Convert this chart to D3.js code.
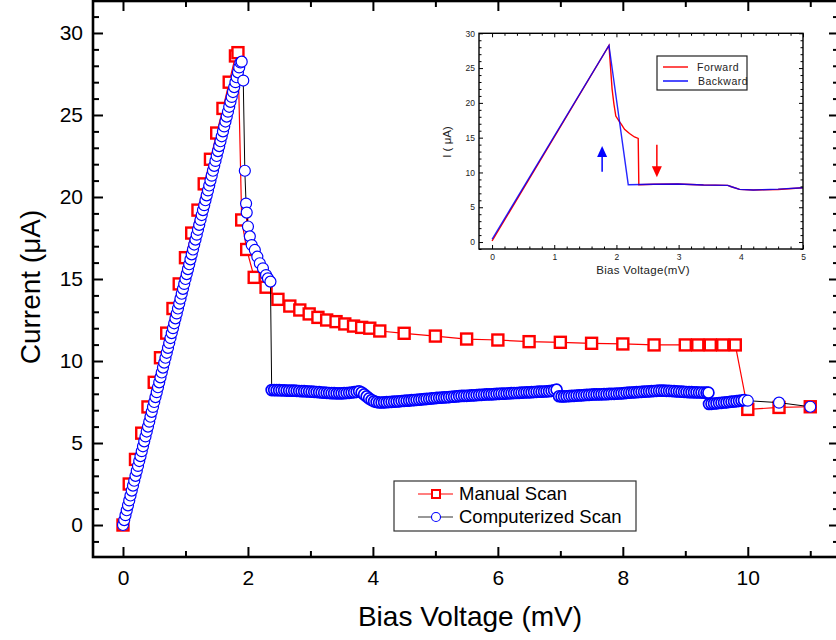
<!DOCTYPE html>
<html>
<head>
<meta charset="utf-8">
<script src="https://cdn.jsdelivr.net/npm/d3@7"></script>
<style>
    body { margin: 0; background: #fff; }
    text { font-family: "Liberation Sans", Arial, sans-serif; }
</style>
</head>
<body>
<div id="main"></div>
<script>
const ctx = {
    w: 836,
    h: 640,
    RED: "#ff0000",
    BLUE: "#0000ff",
};

// Manual scan (red squares)
const MANUAL_V = [0, 0.1, 0.2, 0.3, 0.4, 0.5, 0.6, 0.7, 0.8, 0.9, 1.0, 1.1, 1.2, 1.3, 1.4, 1.5, 1.6, 1.7, 1.8, 1.84,
    1.9, 1.98, 2.1, 2.29, 2.48, 2.67, 2.83, 2.98, 3.12, 3.26, 3.41, 3.55, 3.69, 3.82, 3.95, 4.11,
    4.5, 5.0, 5.5, 6.0, 6.5, 7.0, 7.5, 8.0, 8.5, 9.0, 9.2, 9.4, 9.6, 9.8, 10.0, 10.5, 11.0];
const MANUAL_I = [0, 2.5, 4.0, 5.6, 7.2, 8.7, 10.2, 11.7, 13.2, 14.7, 16.3, 17.8, 19.2, 20.8, 22.3, 23.9, 25.4, 27.0, 28.6, 28.8,
    18.6, 16.8, 15.1, 14.5, 13.76, 13.35, 13.11, 12.87, 12.66, 12.5, 12.4, 12.26, 12.13, 12.05, 12.0, 11.83,
    11.69, 11.52, 11.34, 11.28, 11.18, 11.14, 11.08, 11.04, 10.98, 10.98, 10.98, 10.98, 10.98, 10.98, 7.05, 7.17, 7.21];

// Computerized scan (blue circles): rising branch
const COMP_RAMP_V = [0, 0.02, 0.04, 0.06, 0.08, 0.1, 0.12, 0.14, 0.16, 0.18, 0.2, 0.22, 0.24, 0.26, 0.28, 0.3, 0.32, 0.34, 0.36, 0.38,
    0.4, 0.42, 0.44, 0.46, 0.48, 0.5, 0.52, 0.54, 0.56, 0.58, 0.6, 0.62, 0.64, 0.66, 0.68, 0.7, 0.72, 0.74, 0.76, 0.78,
    0.8, 0.82, 0.84, 0.86, 0.88, 0.9, 0.92, 0.94, 0.96, 0.98, 1.0, 1.02, 1.04, 1.06, 1.08, 1.1, 1.12, 1.14, 1.16, 1.18,
    1.2, 1.22, 1.24, 1.26, 1.28, 1.3, 1.32, 1.34, 1.36, 1.38, 1.4, 1.42, 1.44, 1.46, 1.48, 1.5, 1.52, 1.54, 1.56, 1.58,
    1.6, 1.62, 1.64, 1.66, 1.68, 1.7, 1.72, 1.74, 1.76, 1.78, 1.8, 1.82, 1.84, 1.86, 1.88];
const COMP_RAMP_I = [0, 0.3, 0.6, 0.9, 1.2, 1.5, 1.8, 2.1, 2.4, 2.7, 3.0, 3.3, 3.6, 3.9, 4.2, 4.5, 4.8, 5.1, 5.4, 5.7,
    6.0, 6.3, 6.6, 6.9, 7.2, 7.5, 7.8, 8.1, 8.4, 8.7, 9.0, 9.3, 9.6, 9.9, 10.2, 10.5, 10.8, 11.1, 11.4, 11.7,
    12.0, 12.3, 12.6, 12.9, 13.2, 13.5, 13.8, 14.1, 14.4, 14.7, 15.0, 15.3, 15.6, 15.9, 16.2, 16.5, 16.8, 17.1, 17.4, 17.7,
    18.0, 18.3, 18.6, 18.9, 19.2, 19.5, 19.8, 20.1, 20.4, 20.7, 21.0, 21.3, 21.6, 21.9, 22.2, 22.5, 22.8, 23.1, 23.4, 23.7,
    24.0, 24.3, 24.6, 24.9, 25.2, 25.5, 25.8, 26.1, 26.4, 26.7, 27.0, 27.3, 27.6, 27.9, 28.2];

// Computerized scan: switching branch after the peak
const COMP_DROP_V = [1.9, 1.925, 1.95, 1.97, 1.98, 2.0, 2.03, 2.06, 2.11, 2.15, 2.19, 2.24, 2.29, 2.32, 2.36];
const COMP_DROP_I = [28.25, 27.1, 21.6, 19.6, 19.05, 18.2, 17.6, 17.07, 16.77, 16.36, 15.96, 15.65, 15.24, 15.04, 14.84];

// Computerized scan: resistive branch (densely sampled)
const COMP_BAND_V = [2.38, 2.42, 2.46, 2.5, 2.54, 2.58, 2.62, 2.66, 2.7, 2.74, 2.78, 2.82, 2.86, 2.9, 2.94, 2.98, 3.02, 3.06, 3.1, 3.14,
    3.18, 3.22, 3.26, 3.3, 3.34, 3.38, 3.42, 3.46, 3.5, 3.54, 3.58, 3.62, 3.66, 3.7, 3.74, 3.78,
    3.82, 3.86, 3.9, 3.94, 3.98, 4.02, 4.06, 4.1, 4.14, 4.18,
    4.22, 4.26, 4.3, 4.34, 4.38, 4.42, 4.46, 4.5, 4.54, 4.58, 4.62, 4.66, 4.7, 4.74, 4.78, 4.82, 4.86, 4.9, 4.94, 4.98,
    5.02, 5.06, 5.1, 5.14, 5.18, 5.22, 5.26, 5.3, 5.34, 5.38, 5.42, 5.46, 5.5, 5.54, 5.58, 5.62, 5.66, 5.7, 5.74, 5.78,
    5.82, 5.86, 5.9, 5.94, 5.98, 6.02, 6.06, 6.1, 6.14, 6.18, 6.22, 6.26, 6.3, 6.34, 6.38, 6.42, 6.46, 6.5, 6.54, 6.58,
    6.62, 6.66, 6.7, 6.74, 6.78, 6.82, 6.86, 6.9, 6.94,
    6.98, 7.02, 7.06, 7.1, 7.14, 7.18, 7.22, 7.26, 7.3, 7.34, 7.38, 7.42, 7.46, 7.5, 7.54, 7.58, 7.62, 7.66, 7.7, 7.74,
    7.78, 7.82, 7.86, 7.9, 7.94, 7.98, 8.02, 8.06, 8.1, 8.14, 8.18, 8.22, 8.26, 8.3, 8.34, 8.38, 8.42, 8.46, 8.5, 8.54,
    8.58, 8.62, 8.66, 8.7, 8.74, 8.78, 8.82, 8.86, 8.9, 8.94, 8.98, 9.02, 9.06, 9.1, 9.14, 9.18, 9.22, 9.26, 9.3, 9.34, 9.37,
    9.38, 9.42, 9.46, 9.5, 9.54, 9.58, 9.62, 9.66, 9.7, 9.74, 9.78, 9.82, 9.86, 9.9, 9.94];
const COMP_BAND_I = [8.23, 8.23, 8.22, 8.22, 8.21, 8.21, 8.2, 8.2, 8.19, 8.19, 8.18, 8.17, 8.16, 8.16, 8.15, 8.14, 8.13, 8.12, 8.11, 8.1,
    8.08, 8.07, 8.06, 8.05, 8.04, 8.04, 8.03, 8.03, 8.03, 8.04, 8.05, 8.06, 8.08, 8.1, 8.12, 8.15,
    8.08, 7.96, 7.84, 7.72, 7.62, 7.54, 7.5, 7.47, 7.47, 7.48,
    7.49, 7.5, 7.51, 7.52, 7.53, 7.54, 7.56, 7.57, 7.58, 7.59, 7.61, 7.62, 7.63, 7.64, 7.66, 7.67, 7.69, 7.7, 7.72, 7.73,
    7.75, 7.76, 7.77, 7.78, 7.79, 7.8, 7.82, 7.83, 7.84, 7.86, 7.87, 7.88, 7.88, 7.89, 7.9, 7.91, 7.92, 7.93, 7.94, 7.95,
    7.96, 7.97, 7.97, 7.98, 7.99, 8.0, 8.01, 8.01, 8.02, 8.03, 8.04, 8.05, 8.05, 8.06, 8.07, 8.08, 8.09, 8.09, 8.1, 8.11,
    8.12, 8.13, 8.13, 8.14, 8.15, 8.16, 8.18, 8.21, 8.25,
    7.85, 7.84, 7.84, 7.85, 7.86, 7.87, 7.88, 7.89, 7.9, 7.91, 7.92, 7.93, 7.94, 7.95, 7.96, 7.96, 7.97, 7.97, 7.98, 7.98,
    7.99, 8.0, 8.0, 8.01, 8.02, 8.03, 8.04, 8.06, 8.07, 8.08, 8.09, 8.1, 8.11, 8.12, 8.13, 8.14, 8.15, 8.16, 8.17, 8.18,
    8.19, 8.19, 8.19, 8.18, 8.18, 8.17, 8.16, 8.15, 8.14, 8.13, 8.12, 8.11, 8.1, 8.1, 8.09, 8.09, 8.08, 8.08, 8.07, 8.07, 8.07,
    7.38, 7.39, 7.41, 7.42, 7.44, 7.45, 7.47, 7.48, 7.5, 7.52, 7.53, 7.55, 7.57, 7.59, 7.61];

// Computerized scan: last coarse points
const COMP_TAIL_V = [10.0, 10.5, 11.0];
const COMP_TAIL_I = [7.58, 7.46, 7.21];

// Inset: forward and backward sweeps
const FWD_V = [0, 1.88, 1.93, 1.96, 1.99, 2.04, 2.08, 2.13, 2.21, 2.29, 2.35, 2.36, 2.6, 2.99, 3.4, 3.79, 3.85, 3.98, 4.2, 4.6, 5.0];
const FWD_I = [0.15, 28.25, 22.0, 19.8, 18.1, 17.4, 16.9, 16.2, 15.6, 15.1, 14.9, 8.24, 8.3, 8.34, 8.2, 8.15, 7.95, 7.57, 7.47, 7.55, 7.81];
const BWD_V = [0, 1.88, 2.19, 2.6, 2.99, 3.4, 3.79, 3.85, 3.98, 4.2, 4.6, 5.0];
const BWD_I = [0.4, 28.25, 8.24, 8.3, 8.34, 8.2, 8.15, 7.95, 7.57, 7.47, 7.6, 7.81];
const ARROW_V = [1.77, 2.65];
const ARROW_FROM = [10.1, 14.0];
const ARROW_TO = [13.8, 9.3];

const X_TICKS = [0, 2, 4, 6, 8, 10];
const X_MINOR = [1, 3, 5, 7, 9, 11];
const Y_TICKS = [0, 5, 10, 15, 20, 25, 30];
const Y_MINOR = [-1, 1, 2, 3, 4, 6, 7, 8, 9, 11, 12, 13, 14, 16, 17, 18, 19, 21, 22, 23, 24, 26, 27, 28, 29, 31];
const INSET_X_TICKS = [0, 1, 2, 3, 4, 5];
const INSET_X_MINOR = [0.2, 0.4, 0.6, 0.8, 1.2, 1.4, 1.6, 1.8, 2.2, 2.4, 2.6, 2.8, 3.2, 3.4, 3.6, 3.8, 4.2, 4.4, 4.6, 4.8];
const INSET_Y_TICKS = [0, 5, 10, 15, 20, 25, 30];
const INSET_Y_MINOR = [-1, 1, 2, 3, 4, 6, 7, 8, 9, 11, 12, 13, 14, 16, 17, 18, 19, 21, 22, 23, 24, 26, 27, 28, 29];

function zip(vs, is, dense) {
    return vs.map((v, k) => ({ v: v, i: is[k], dense: !!dense }));
}

// frame with inward ticks on all four sides
function drawFrame(g, x, y, opt) {
    let [x0, x1] = x.range();
    let [y0, y1] = y.range();
    let W = x1 - x0, H = y0 - y1;
    g.append("g").attr("transform", `translate(0,${y0})`)
        .call(d3.axisBottom(x).tickValues(opt.xt).tickSize(-opt.major).tickPadding(opt.xpad).tickFormat(d3.format("d")))
        .call((a) => a.select(".domain").remove())
        .call((a) => a.selectAll("text").attr("font-size", opt.fs).attr("fill", opt.textColor));
    g.append("g").attr("transform", `translate(0,${y0})`)
        .call(d3.axisBottom(x).tickValues(opt.xm).tickSize(-opt.minor).tickFormat(""))
        .call((a) => a.select(".domain").remove());
    g.append("g").attr("transform", `translate(0,${y1})`)
        .call(d3.axisTop(x).tickValues(opt.xt).tickSize(-opt.major).tickFormat(""))
        .call((a) => a.select(".domain").remove());
    g.append("g").attr("transform", `translate(0,${y1})`)
        .call(d3.axisTop(x).tickValues(opt.xm).tickSize(-opt.minor).tickFormat(""))
        .call((a) => a.select(".domain").remove());
    g.append("g").attr("transform", `translate(${x0},0)`)
        .call(d3.axisLeft(y).tickValues(opt.yt).tickSize(-opt.major).tickPadding(opt.ypad).tickFormat(d3.format("d")))
        .call((a) => a.select(".domain").remove())
        .call((a) => a.selectAll("text").attr("font-size", opt.fs).attr("fill", opt.textColor));
    g.append("g").attr("transform", `translate(${x0},0)`)
        .call(d3.axisLeft(y).tickValues(opt.ym).tickSize(-opt.minor).tickFormat(""))
        .call((a) => a.select(".domain").remove());
    g.append("g").attr("transform", `translate(${x1},0)`)
        .call(d3.axisRight(y).tickValues(opt.yt).tickSize(-opt.major).tickFormat(""))
        .call((a) => a.select(".domain").remove());
    g.append("g").attr("transform", `translate(${x1},0)`)
        .call(d3.axisRight(y).tickValues(opt.ym).tickSize(-opt.minor).tickFormat(""))
        .call((a) => a.select(".domain").remove());
    g.selectAll(".tick line").attr("stroke", "#000").attr("stroke-width", opt.tickW);
    g.append("rect")
        .attr("x", x0).attr("y", y1).attr("width", W).attr("height", H)
        .attr("fill", "none").attr("stroke", "#000").attr("stroke-width", opt.frameW);
}

function createMain(svgEl) {
    let x = d3.scaleLinear().domain([-0.48, 11.46]).range([93, 839]);
    let y = d3.scaleLinear().domain([-1.95, 31.95]).range([557, 1]);
    let g = svgEl.append("g");

    let line = d3.line().x((d) => x(d.v)).y((d) => y(d.i));
    let manual = zip(MANUAL_V, MANUAL_I);
    let comp = zip(COMP_RAMP_V, COMP_RAMP_I).concat(
        zip(COMP_DROP_V, COMP_DROP_I),
        zip(COMP_BAND_V, COMP_BAND_I, true),
        zip(COMP_TAIL_V, COMP_TAIL_I));

    g.append("path").datum(manual).attr("d", line)
        .attr("fill", "none").attr("stroke", ctx.RED).attr("stroke-width", 1.2);
    g.selectAll("rect.sq").data(manual).enter().append("rect")
        .attr("class", "sq")
        .attr("x", (d) => x(d.v) - 5.5).attr("y", (d) => y(d.i) - 5.5)
        .attr("width", 11).attr("height", 11)
        .attr("fill", "#fff").attr("stroke", ctx.RED).attr("stroke-width", 2.4);

    g.append("path").datum(comp).attr("d", line)
        .attr("fill", "none").attr("stroke", "#000").attr("stroke-width", 1);
    g.selectAll("circle.ci").data(comp).enter().append("circle")
        .attr("class", "ci")
        .attr("cx", (d) => x(d.v)).attr("cy", (d) => y(d.i))
        .attr("r", 5.5)
        .attr("fill", "#fff").attr("stroke", ctx.BLUE)
        .attr("stroke-width", (d) => (d.dense ? 1.7 : 1.2));

    drawFrame(g, x, y, {
        xt: X_TICKS, xm: X_MINOR, yt: Y_TICKS, ym: Y_MINOR,
        major: 10, minor: 6, xpad: 13, ypad: 10, fs: 21, tickW: 2, frameW: 2.6, textColor: "#000"
    });

    svgEl.append("text")
        .attr("x", 470).attr("y", 626)
        .attr("text-anchor", "middle").attr("font-size", 28)
        .text("Bias Voltage (mV)");
    svgEl.append("text")
        .attr("transform", "translate(40,287) rotate(-90)")
        .attr("text-anchor", "middle").attr("font-size", 28)
        .text("Current (μA)");

    // legend
    let lg = svgEl.append("g");
    lg.append("rect").attr("x", 394).attr("y", 481).attr("width", 242).attr("height", 50)
        .attr("fill", "#fff").attr("stroke", "#333").attr("stroke-width", 1.2);
    lg.append("line").attr("x1", 418).attr("x2", 453).attr("y1", 494).attr("y2", 494)
        .attr("stroke", ctx.RED).attr("stroke-width", 1.2);
    lg.append("rect").attr("x", 432).attr("y", 490).attr("width", 8).attr("height", 8)
        .attr("fill", "#fff").attr("stroke", ctx.RED).attr("stroke-width", 2);
    lg.append("text").attr("x", 459).attr("y", 494).attr("dy", "0.35em")
        .attr("font-size", 18.5).text("Manual Scan");
    lg.append("line").attr("x1", 418).attr("x2", 453).attr("y1", 517).attr("y2", 517)
        .attr("stroke", "#333").attr("stroke-width", 1.2);
    lg.append("circle").attr("cx", 436).attr("cy", 517).attr("r", 4.5)
        .attr("fill", "#fff").attr("stroke", ctx.BLUE).attr("stroke-width", 1.1);
    lg.append("text").attr("x", 459).attr("y", 517).attr("dy", "0.35em")
        .attr("font-size", 18.5).text("Computerized Scan");
}

function createInset(svgEl) {
    let x = d3.scaleLinear().domain([-0.21, 5]).range([479, 803]);
    let y = d3.scaleLinear().domain([-1, 30]).range([249, 33.3]);
    let g = svgEl.append("g");
    g.append("rect").attr("x", 479).attr("y", 33.3).attr("width", 324).attr("height", 215.7).attr("fill", "#fff");

    let line = d3.line().x((d) => x(d.v)).y((d) => y(d.i));
    g.append("path").datum(zip(FWD_V, FWD_I)).attr("d", line)
        .attr("fill", "none").attr("stroke", ctx.RED).attr("stroke-width", 1.4);
    g.append("path").datum(zip(BWD_V, BWD_I)).attr("d", line)
        .attr("fill", "none").attr("stroke", ctx.BLUE).attr("stroke-width", 1.4).attr("stroke-opacity", 0.85);

    // arrows
    let colors = [ctx.BLUE, ctx.RED];
    ARROW_V.forEach((v, k) => {
        let ax = x(v), yf = y(ARROW_FROM[k]), yt = y(ARROW_TO[k]);
        let dir = yt < yf ? -1 : 1;
        g.append("line").attr("x1", ax).attr("x2", ax).attr("y1", yf).attr("y2", yt - dir * 9)
            .attr("stroke", colors[k]).attr("stroke-width", 1.5);
        g.append("path")
            .attr("d", `M${ax},${yt} L${ax - 5},${yt - dir * 11} L${ax + 5},${yt - dir * 11} Z`)
            .attr("fill", colors[k]);
    });

    drawFrame(g, x, y, {
        xt: INSET_X_TICKS, xm: INSET_X_MINOR, yt: INSET_Y_TICKS, ym: INSET_Y_MINOR,
        major: 4, minor: 2.5, xpad: 5, ypad: 4, fs: 8.5, tickW: 1, frameW: 1.4, textColor: "#222"
    });

    svgEl.append("text")
        .attr("x", 643).attr("y", 274)
        .attr("text-anchor", "middle").attr("font-size", 11.5).attr("fill", "#222")
        .attr("letter-spacing", 0.3)
        .text("Bias Voltage(mV)");
    svgEl.append("text")
        .attr("transform", "translate(451,142) rotate(-90)")
        .attr("text-anchor", "middle").attr("font-size", 11.5).attr("fill", "#222")
        .text("I ( μA)");

    let lg = svgEl.append("g");
    lg.append("rect").attr("x", 657).attr("y", 56).attr("width", 90).attr("height", 34)
        .attr("fill", "#fff").attr("stroke", "#222").attr("stroke-width", 1.2);
    lg.append("line").attr("x1", 663).attr("x2", 688).attr("y1", 67).attr("y2", 67)
        .attr("stroke", ctx.RED).attr("stroke-width", 1.4);
    lg.append("text").attr("x", 697).attr("y", 67).attr("dy", "0.35em")
        .attr("font-size", 10.5).attr("letter-spacing", 0.5).attr("fill", "#222").text("Forward");
    lg.append("line").attr("x1", 663).attr("x2", 688).attr("y1", 81).attr("y2", 81)
        .attr("stroke", ctx.BLUE).attr("stroke-width", 1.4);
    lg.append("text").attr("x", 698).attr("y", 81).attr("dy", "0.35em")
        .attr("font-size", 10.5).attr("letter-spacing", 0.5).attr("fill", "#222").text("Backward");
}

function createViz() {
    let svgEl = d3.select("#main").append("svg")
        .attr("width", ctx.w)
        .attr("height", ctx.h)
        .style("display", "block");
    svgEl.append("rect").attr("width", ctx.w).attr("height", ctx.h).attr("fill", "#fff");
    createMain(svgEl);
    createInset(svgEl);
}

createViz();
</script>
</body>
</html>
